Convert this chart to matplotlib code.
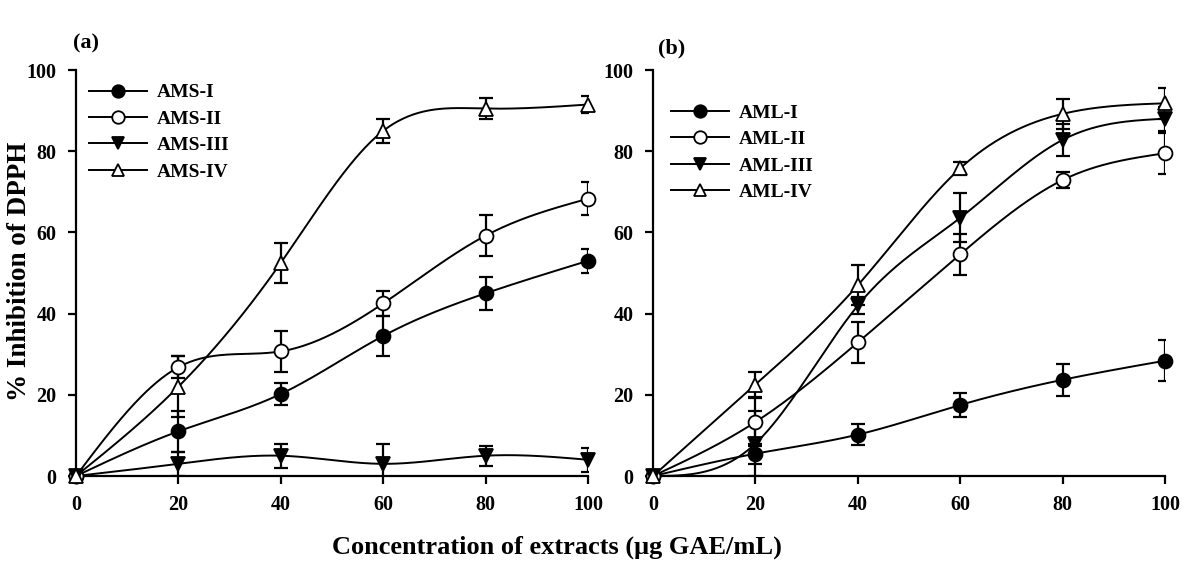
import numpy as np
import matplotlib
matplotlib.use("Agg")
import matplotlib.pyplot as plt
from matplotlib.lines import Line2D

plt.rcParams['font.family'] = ['Liberation Serif', 'DejaVu Serif']
plt.rcParams['font.weight'] = 'bold'
plt.rcParams['mathtext.default'] = 'regular'

conc = [0, 20, 40, 60, 80, 100]

# panel (a)
ams_names = ["AMS-I", "AMS-II", "AMS-III", "AMS-IV"]
ams_i = [0, 11.0, 20.2, 34.5, 45.0, 53.0]
ams_i_err = [0, 5.0, 2.6, 5.0, 4.0, 3.0]
ams_ii = [0, 26.8, 30.7, 42.5, 59.2, 68.3]
ams_ii_err = [0, 2.7, 5.0, 3.0, 5.0, 4.0]
ams_iii = [0, 3.0, 5.0, 3.0, 5.0, 4.0]
ams_iii_err = [0, 3.0, 3.0, 5.0, 2.5, 3.0]
ams_iv = [0, 22.0, 52.5, 85.0, 90.5, 91.5]
ams_iv_err = [0, 7.5, 5.0, 3.0, 2.5, 2.0]

# panel (b)
aml_names = ["AML-I", "AML-II", "AML-III", "AML-IV"]
aml_i = [0, 5.5, 10.2, 17.5, 23.7, 28.4]
aml_i_err = [0, 2.5, 2.5, 3.0, 4.0, 5.0]
aml_ii = [0, 13.3, 32.9, 54.6, 72.9, 79.5]
aml_ii_err = [0, 6.0, 5.0, 5.0, 2.0, 5.0]
aml_iii = [0, 8.0, 42.0, 63.6, 82.8, 88.0]
aml_iii_err = [0, 8.0, 2.0, 6.0, 4.0, 3.0]
aml_iv = [0, 22.5, 47.0, 75.8, 89.2, 91.8]
aml_iv_err = [0, 3.0, 5.0, 1.6, 3.7, 3.8]

markers = [('o', 'black'), ('o', 'white'), ('v', 'black'), ('^', 'white')]


def natural_spline(x, y, n=300):
    # simple natural cubic spline, no scipy
    x = np.asarray(x, float)
    y = np.asarray(y, float)
    k = len(x)
    h = np.diff(x)
    A = np.zeros((k, k))
    b = np.zeros(k)
    A[0, 0] = 1
    A[-1, -1] = 1
    for i in range(1, k - 1):
        A[i, i - 1] = h[i - 1]
        A[i, i] = 2 * (h[i - 1] + h[i])
        A[i, i + 1] = h[i]
        b[i] = 3 * ((y[i + 1] - y[i]) / h[i] - (y[i] - y[i - 1]) / h[i - 1])
    c = np.linalg.solve(A, b)
    xs = np.linspace(x[0], x[-1], n)
    ys = np.empty_like(xs)
    for j, xv in enumerate(xs):
        i = min(np.searchsorted(x, xv, side='right') - 1, k - 2)
        dx = xv - x[i]
        bi = (y[i + 1] - y[i]) / h[i] - h[i] * (2 * c[i] + c[i + 1]) / 3
        di = (c[i + 1] - c[i]) / (3 * h[i])
        ys[j] = y[i] + bi * dx + c[i] * dx ** 2 + di * dx ** 3
    return xs, ys


def draw_panel(ax, series, errs, names, legend_loc):
    handles = []
    for vals, err, (m, fc) in zip(series, errs, markers):
        xs, ys = natural_spline(conc, vals)
        ax.plot(xs, ys, color='black', lw=1.4, clip_on=False, zorder=2)
        ax.errorbar(conc, vals, yerr=err, fmt='none', ecolor='black',
                    elinewidth=1.6, capsize=5, capthick=1.6, zorder=3)
        ax.plot(conc, vals, ls='none', marker=m, ms=10, mfc=fc, mec='black',
                mew=1.3, clip_on=False, zorder=4)
        handles.append(Line2D([], [], color='black', lw=1.4, marker=m, ms=9,
                              mfc=fc, mec='black', mew=1.3))
    ax.set_xlim(0, 100)
    ax.set_ylim(0, 100)
    ax.set_xticks(conc)
    ax.set_yticks([0, 20, 40, 60, 80, 100])
    for s in ['top', 'right']:
        ax.spines[s].set_visible(False)
    for s in ['left', 'bottom']:
        ax.spines[s].set_linewidth(1.6)
    ax.tick_params(direction='out', length=6, width=1.6, labelsize=14.5, pad=8)
    for lab in ax.get_xticklabels() + ax.get_yticklabels():
        lab.set_fontweight('bold')
    ax.legend(handles, names, loc='upper left', bbox_to_anchor=legend_loc,
              frameon=False, fontsize=14, handlelength=3.0, labelspacing=0.45,
              handletextpad=0.5, borderaxespad=0)


fig = plt.figure(figsize=(12, 5.65), dpi=100)
ax1 = fig.add_axes([0.0633, 0.1575, 0.4267, 0.7186])
ax2 = fig.add_axes([0.5442, 0.1575, 0.4267, 0.7186])

draw_panel(ax1, [ams_i, ams_ii, ams_iii, ams_iv],
           [ams_i_err, ams_ii_err, ams_iii_err, ams_iv_err], ams_names, (0.01, 0.985))
draw_panel(ax2, [aml_i, aml_ii, aml_iii, aml_iv],
           [aml_i_err, aml_ii_err, aml_iii_err, aml_iv_err], aml_names, (0.02, 0.935))

fig.text(0.061, 0.915, "(a)", fontsize=16, fontweight='bold')
fig.text(0.548, 0.905, "(b)", fontsize=16, fontweight='bold')
fig.text(0.016, 0.52, "% Inhibition of DPPH", rotation=90, fontsize=19.5,
         fontweight='bold', ha='center', va='center')
fig.text(0.464, 0.032, "Concentration of extracts (\u03bcg GAE/mL)", fontsize=19,
         fontweight='bold', ha='center', va='center')

fig.savefig("out.png", dpi=100)
